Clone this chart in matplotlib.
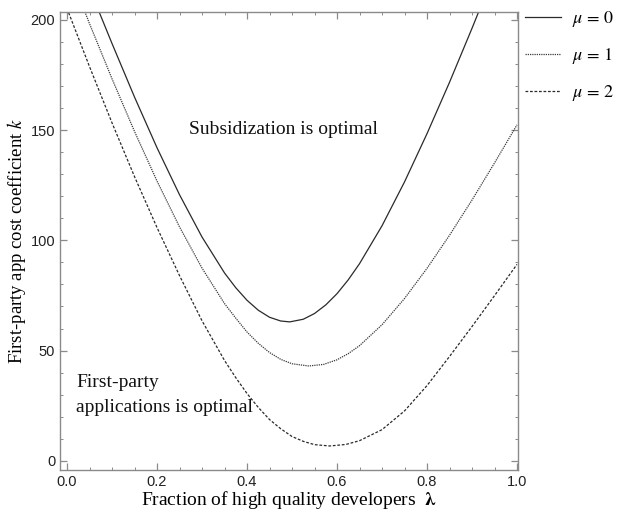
import matplotlib
matplotlib.use("Agg")
import matplotlib.pyplot as plt
from matplotlib.ticker import MultipleLocator

# ---- data ----
lam_mu0 = [0.05, 0.10, 0.15, 0.20, 0.25, 0.30, 0.35, 0.375, 0.40, 0.425, 0.45, 0.475,
           0.495, 0.525, 0.55, 0.575, 0.60, 0.625, 0.65, 0.70, 0.75, 0.80, 0.85, 0.90, 0.95]
k_mu0 = [214.3, 189.3, 165.0, 142.0, 120.7, 101.5, 85.2, 78.5, 72.8, 68.3, 65.1, 63.4,
         63.0, 64.2, 66.8, 70.7, 75.8, 82.1, 89.4, 106.6, 126.5, 148.4, 171.7, 196.2, 221.5]

lam_mu1 = [0.00, 0.05, 0.10, 0.15, 0.20, 0.25, 0.30, 0.35, 0.375, 0.40, 0.425, 0.45,
           0.475, 0.50, 0.537, 0.57, 0.60, 0.625, 0.65, 0.70, 0.75, 0.80, 0.85, 0.90,
           0.95, 1.00]
k_mu1 = [224.2, 198.3, 173.3, 149.4, 126.9, 106.1, 87.4, 71.3, 64.7, 58.4, 53.3, 49.1,
         46.0, 44.0, 43.0, 43.7, 45.8, 48.6, 52.2, 61.7, 73.6, 87.3, 102.3, 118.3,
         135.1, 152.4]

lam_mu2 = [0.00, 0.05, 0.10, 0.15, 0.20, 0.25, 0.30, 0.35, 0.375, 0.40, 0.425, 0.45,
           0.475, 0.50, 0.525, 0.55, 0.584, 0.62, 0.65, 0.70, 0.75, 0.80, 0.85, 0.90,
           0.95, 1.00]
k_mu2 = [205.2, 178.8, 153.3, 128.9, 105.8, 84.0, 63.5, 45.5, 37.7, 30.5, 24.2, 18.7,
         14.5, 11.0, 8.8, 7.3, 6.7, 7.4, 9.1, 14.1, 22.6, 34.1, 47.3, 60.9,
         74.9, 89.1]

series_labels = [r"$\mu$ = 0", r"$\mu$ = 1", r"$\mu$ = 2"]
region_upper = "Subsidization is optimal"
region_lower = "First-party\napplications is optimal"
xlabel = r"Fraction of high quality developers  $\boldsymbol{\lambda}$"
ylabel = r"First-party app cost coefficient $k$"

plt.rcParams["mathtext.fontset"] = "stix"

fig = plt.figure(figsize=(6.17, 5.13), dpi=100)
ax = fig.add_axes([60 / 617, 1 - 470 / 513, (518 - 60) / 617, (470 - 12) / 513])

col = "#2a2a2a"
l0, = ax.plot(lam_mu0, k_mu0, color=col, lw=0.9, ls="-")
l1, = ax.plot(lam_mu1, k_mu1, color="#3a3a3a", lw=0.9, ls=(0, (1, 0.8)))
l2, = ax.plot(lam_mu2, k_mu2, color=col, lw=0.9, ls=(0, (2.2, 1.4)))

ax.set_xlim(-0.0156, 1.0022)
ax.set_ylim(-4.2, 203.6)

ax.xaxis.set_major_locator(MultipleLocator(0.2))
ax.xaxis.set_minor_locator(MultipleLocator(0.05))
ax.yaxis.set_major_locator(MultipleLocator(50))
ax.yaxis.set_minor_locator(MultipleLocator(10))
ax.set_xticks([0, 0.2, 0.4, 0.6, 0.8, 1.0])
ax.set_xticklabels(["0.0", "0.2", "0.4", "0.6", "0.8", "1.0"])

frame_col = "#8a8a8a"
for s in ax.spines.values():
    s.set_color(frame_col)
    s.set_linewidth(1.0)
ax.tick_params(which="both", direction="in", top=True, right=True, color=frame_col,
               labelcolor="#222222", labelsize=10.5)
ax.tick_params(which="major", length=5, width=0.9)
ax.tick_params(which="minor", length=2.5, width=0.7)
for lab in ax.get_xticklabels() + ax.get_yticklabels():
    lab.set_family("Liberation Sans")

ax.set_xlabel(xlabel, family="Liberation Serif", fontsize=14, labelpad=0)
ax.set_ylabel(ylabel, family="Liberation Serif", fontsize=13.5, labelpad=2)

ax.text(0.48, 150.5, region_upper, family="Liberation Serif", fontsize=14,
        ha="center", va="center", color="#111111")
ax.text(0.02, 30, region_lower, family="Liberation Serif", fontsize=14,
        ha="left", va="center", color="#111111", linespacing=1.6)

fig.legend([l0, l1, l2], series_labels, loc="upper left",
           bbox_to_anchor=(525 / 617, 1 - 9 / 513), frameon=False,
           handlelength=2.0, handletextpad=0.6, labelspacing=0.95,
           borderpad=0, borderaxespad=0,
           prop={"family": "STIXGeneral", "size": 13})

fig.savefig("out.png", dpi=100)
